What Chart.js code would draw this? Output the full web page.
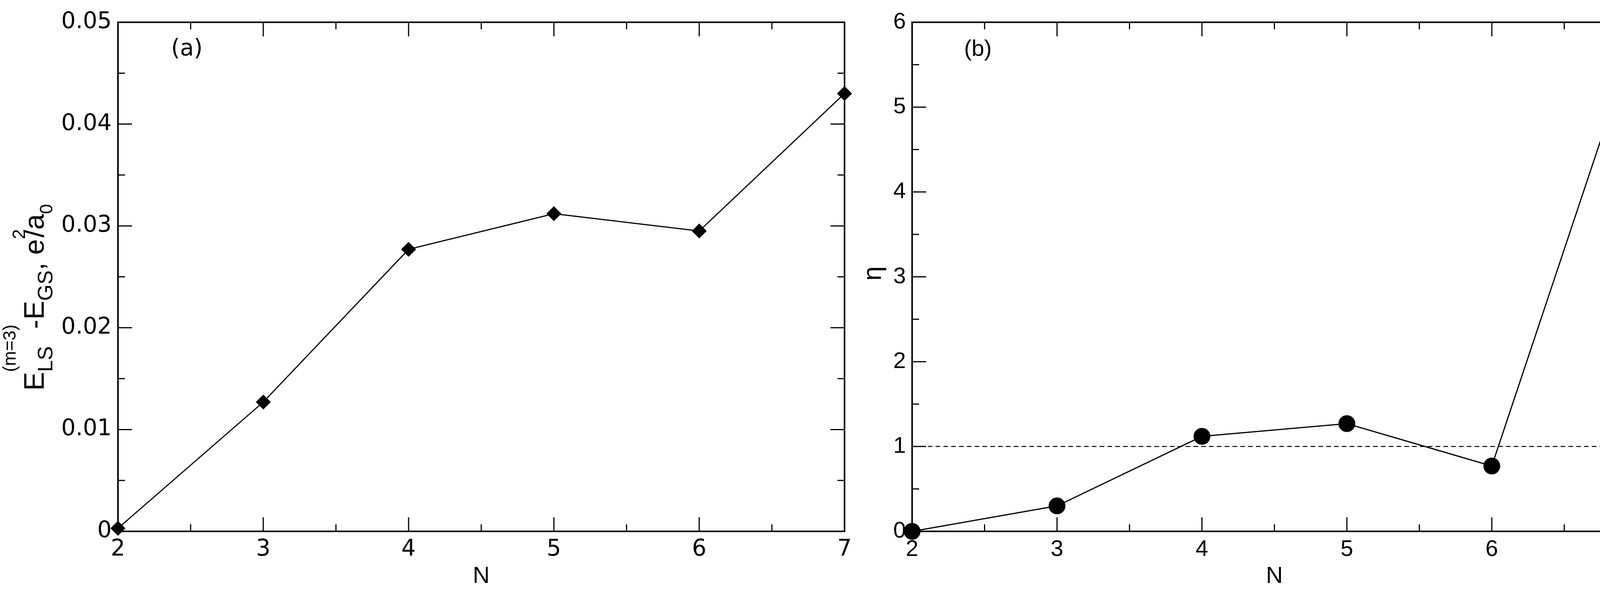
<!DOCTYPE html>
<html>
<head>
<script src="https://cdn.jsdelivr.net/npm/chart.js@4"></script>
<style>
html, body { margin:0; padding:0; background:#fff; overflow:hidden; width:4224px; height:1528px; }
canvas { position:absolute; top:0; display:block; }
#ca { left:0; }
#cb { left:2200px; }
</style>
</head>
<body>
<canvas id="ca" width="2200" height="1528" style="width:2200px;height:1528px"></canvas>
<canvas id="cb" width="2024" height="1528" style="width:2024px;height:1528px"></canvas>
<script>
// data
const nValues = [2, 3, 4, 5, 6, 7];
const gapValues = [0.0003, 0.0127, 0.0277, 0.0312, 0.0295, 0.0430];
const etaValues = [0.0, 0.30, 1.12, 1.27, 0.77, 5.88];
const refLine = [1, 1];
const refN = [2, 7];

// ticks pointing inward, major + minor, on all four sides
const tickPlugin = {
  id: 'inticks',
  afterDraw(chart, args, opts) {
    const ctx = chart.ctx, a = chart.chartArea;
    const x = chart.scales.x, y = chart.scales.y;
    ctx.save();
    ctx.strokeStyle = '#000';
    ctx.lineWidth = 4;
    ctx.strokeRect(a.left, a.top, a.right - a.left, a.bottom - a.top);
    ctx.lineWidth = 3;
    const draw = (x1, y1, x2, y2) => { ctx.beginPath(); ctx.moveTo(x1, y1); ctx.lineTo(x2, y2); ctx.stroke(); };
    for (let v = 2; v <= 7.001; v += 0.5) {
      const px = x.getPixelForValue(v);
      const len = Math.abs(v - Math.round(v)) < 0.01 ? 36 : 18;
      draw(px, a.bottom, px, a.bottom - len);
      draw(px, a.top, px, a.top + len);
    }
    const step = opts.yStep;
    for (let i = 0; i <= opts.yCount * 2; i++) {
      const v = i * step / 2;
      const py = y.getPixelForValue(v);
      const len = i % 2 === 0 ? 36 : 18;
      draw(a.left, py, a.left + len, py);
      draw(a.right, py, a.right - len, py);
    }
    ctx.fillStyle = '#000';
    ctx.font = '58px ' + opts.family;
    ctx.textAlign = 'left';
    ctx.textBaseline = 'middle';
    ctx.fillText(opts.tag, opts.tagX, 127);
    ctx.textAlign = 'center';
    ctx.font = '60px "Liberation Sans"';
    ctx.fillText('N', (a.left + a.right) / 2, 1475);
    ctx.restore();
  }
};

const baseOpts = (yMax, yStep, yW, padR, family) => ({
  responsive: false,
  animation: false,
  devicePixelRatio: 1,
  layout: { padding: { top: 57, right: padR, bottom: 0, left: 0 } },
  plugins: { legend: { display: false }, tooltip: { enabled: false } },
  scales: {
    x: {
      type: 'linear', min: 2, max: 7,
      grid: { display: false }, border: { display: false },
      afterFit: s => { s.height = 168; },
      ticks: { stepSize: 1, color: '#000', font: { size: 58, family: family }, padding: 4 }
    },
    y: {
      min: 0, max: yMax,
      grid: { display: false }, border: { display: false },
      afterFit: s => { s.width = yW; },
      ticks: { stepSize: yStep, color: '#000', font: { size: 58, family: family }, padding: 8,
        callback: v => v === 0 ? '0' : String(Math.round(v * 1000) / 1000) }
    }
  }
});

const optsA = baseOpts(0.05, 0.01, 302, 38, '"DejaVu Sans"');
optsA.plugins.inticks = { yStep: 0.01, yCount: 5, tag: '(a)', tagX: 438, family: '"DejaVu Sans"' };
new Chart(document.getElementById('ca'), {
  type: 'line',
  data: { datasets: [{
    data: nValues.map((n, i) => ({ x: n, y: gapValues[i] })),
    borderColor: '#000', borderWidth: 3, backgroundColor: '#000',
    pointStyle: 'rectRot', pointRadius: 17, clip: false
  }] },
  options: optsA,
  plugins: [tickPlugin, {
    id: 'ytitleA',
    afterDraw(chart) {
      const ctx = chart.ctx;
      ctx.save();
      ctx.translate(112, 700);
      ctx.rotate(-Math.PI / 2);
      ctx.fillStyle = '#000';
      ctx.textBaseline = 'alphabetic';
      ctx.textAlign = 'left';
      let x = -300;
      const put = (t, size, dy) => {
        ctx.font = size + 'px "Liberation Sans"';
        ctx.fillText(t, x, dy);
        return ctx.measureText(t).width;
      };
      x += put('E', 72, 0);
      const ls = put('LS', 54, 22);
      put('(m=3)', 46, -72);
      x += Math.max(ls, 110);
      x += put('-E', 72, 0);
      x += put('GS', 54, 22);
      x += put(', e', 72, 0);
      put('2', 46, -48); x += 4;
      x += put('/a', 72, 0);
      put('0', 46, 22);
      ctx.restore();
    }
  }]
});

const optsB = baseOpts(6, 1, 135, 34, '"Liberation Sans Narrow", "Liberation Sans"');
optsB.plugins.inticks = { yStep: 1, yCount: 6, tag: '(b)', tagX: 2468 - 2200, family: '"Liberation Sans"' };
new Chart(document.getElementById('cb'), {
  type: 'line',
  data: { datasets: [
    { data: nValues.map((n, i) => ({ x: n, y: etaValues[i] })),
      borderColor: '#000', borderWidth: 3, backgroundColor: '#000',
      pointStyle: 'circle', pointRadius: 20, clip: false },
    { data: refN.map((n, i) => ({ x: n, y: refLine[i] })),
      borderColor: '#000', borderWidth: 2.5, borderDash: [12, 8], pointRadius: 0 }
  ] },
  options: optsB,
  plugins: [tickPlugin, {
    id: 'ytitleB',
    afterDraw(chart) {
      const ctx = chart.ctx;
      ctx.save();
      ctx.translate(55, 700);
      ctx.rotate(-Math.PI / 2);
      ctx.fillStyle = '#000';
      ctx.font = '66px "Liberation Sans"';
      ctx.textAlign = 'center';
      ctx.fillText('η', 0, 0);
      ctx.restore();
    }
  }]
});
</script>
</body>
</html>
